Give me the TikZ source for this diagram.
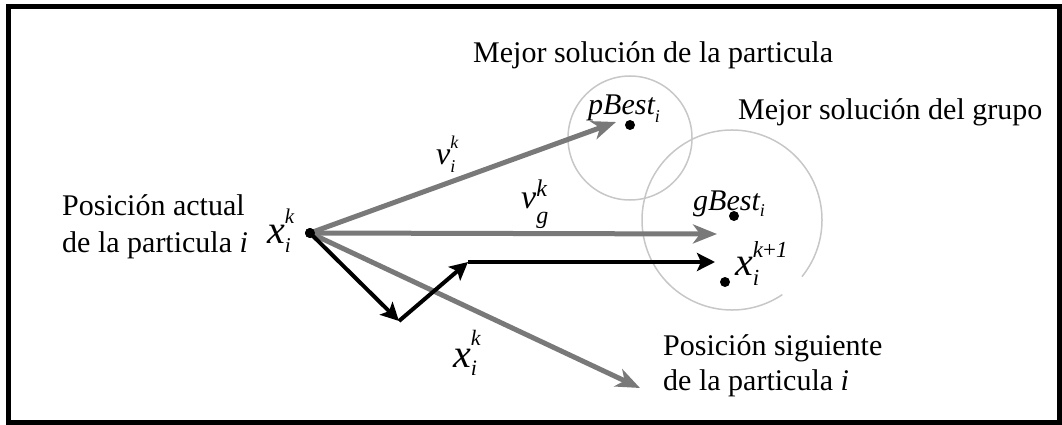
\documentclass[tikz,border=0pt]{standalone}
\usepackage{fontspec}
\setmainfont{Liberation Serif}
\usetikzlibrary{arrows.meta}
% base, sub, sup, base size, script size, raise, lower
\newcommand\ssl[7]{{\fontsize{#4}{#4}\selectfont\itshape #1}\rlap{\raisebox{#6pt}{\fontsize{#5}{#5}\selectfont\itshape #3}}\raisebox{-#7pt}{\fontsize{#5}{#5}\selectfont\itshape #2}}
\begin{document}
\begin{tikzpicture}[x=1pt,y=-1pt,
  txt/.style={inner sep=0pt, anchor=base west, font=\fontsize{30}{36}\selectfont},
  lbl/.style={inner sep=0pt, anchor=base west},
  dot/.style={circle, fill=black, inner sep=0pt, minimum size=10pt},
  garrow/.style={draw=gray!95!black, line width=5pt, -{Stealth[length=24pt,width=19pt,inset=7pt]}},
  barrow/.style={draw=black, line width=4pt, -{Stealth[length=18pt,width=18pt,inset=4pt]}},
  ring/.style={draw=black!22, line width=1.5pt}]
\useasboundingbox (0,0) rectangle (1062,425);
\draw[line width=5pt] (8.5,6.5) rectangle (1059.5,422.5);
% circles
\node[ring, circle, minimum size=124pt, inner sep=0pt] (C1) at (630,138) {};
\coordinate (C2) at (732,220);
\draw[ring] (C2) ++(56:90) arc[start angle=56, end angle=399, radius=90];
% points
\coordinate (T1) at (616,122);
\coordinate (T2) at (717,234);
\coordinate (T3) at (640,388);
\coordinate (B1) at (399,321);
\coordinate (B2) at (468,262);
\coordinate (T4) at (715,262);
\node[dot] (O) at (310,233) {};
\node[dot] (PB) at (630,125) {};
\node[dot] (GB) at (734,216) {};
\node[dot] (XN) at (725,282) {};
% arrows
\draw[garrow] (O.center) -- (T1);
\draw[garrow] (O.center) -- (T2);
\draw[garrow] (O.center) -- (T3);
\draw[barrow] (O.center) -- (B1);
\draw[barrow] (B1) -- (B2);
\draw[barrow] (B2) -- (T4);
\node[dot] at (O) {};
% texts
\node[txt] (t1) at (473,63) {Mejor solución de la particula};
\node[txt] (t2) at (738,120) {Mejor solución del grupo};
\node[txt] (t3) at (62,215) {Posición actual};
\node[txt] (t4) at (62,252) {de la particula \textit{i}};
\node[txt] (t5) at (663,355) {Posición siguiente};
\node[txt] (t6) at (663,390) {de la particula \textit{i}};
% math labels
\node[lbl] (l1) at (267,243) {\ssl{x}{i}{k}{40}{21}{20}{9}};
\node[lbl] (l2) at (436,164) {\ssl{v}{i}{k}{32}{18}{15}{9}};
\node[lbl] (l3) at (521,208) {\ssl{v}{g}{k}{34}{24}{12}{15}};
\node[lbl] (l4) at (588,115) {\ssl{pBest}{i}{}{30}{18}{0}{7}};
\node[lbl] (l5) at (693,210) {\ssl{gBest}{i}{}{30}{18}{0}{6}};
\node[lbl] (l6) at (735,275) {\ssl{x}{i}{k{\upshape+}1}{40}{23}{18}{10}};
\node[lbl] (l7) at (453,367) {\ssl{x}{i}{k}{40}{22}{22}{8}};
\end{tikzpicture}
\end{document}
